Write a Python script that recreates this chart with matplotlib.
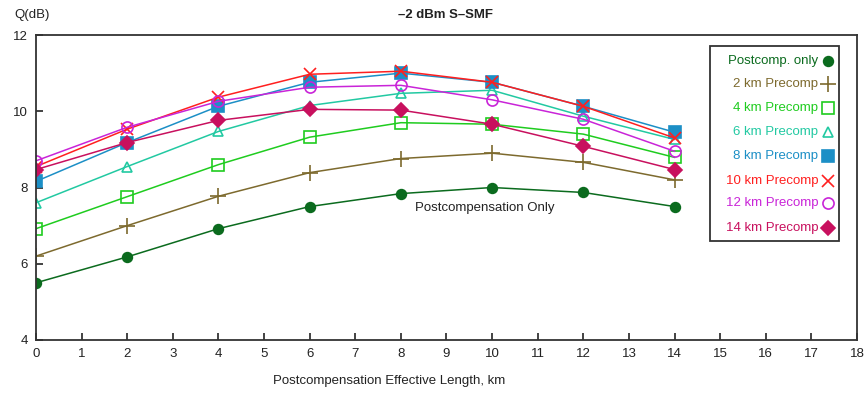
import matplotlib
matplotlib.use("Agg")
import matplotlib.pyplot as plt
from matplotlib.patches import Rectangle

plt.rcParams['font.family'] = ['Liberation Sans', 'DejaVu Sans']

W, H = 866, 393

# Postcompensation effective length (km)
length_km = [0, 2, 4, 6, 8, 10, 12, 14]

# Q factor (dB) per precompensation setting
q_postcomp_only = [5.50, 6.18, 6.92, 7.50, 7.84, 8.00, 7.87, 7.50]
q_pre_2km = [6.20, 7.00, 7.77, 8.39, 8.76, 8.90, 8.66, 8.20]
q_pre_4km = [6.92, 7.76, 8.60, 9.32, 9.70, 9.66, 9.40, 8.79]
q_pre_6km = [7.60, 8.55, 9.47, 10.15, 10.47, 10.55, 9.87, 9.26]
q_pre_8km = [8.16, 9.18, 10.13, 10.76, 11.00, 10.76, 10.13, 9.45]
q_pre_10km = [8.55, 9.53, 10.37, 10.97, 11.05, 10.76, 10.13, 9.30]
q_pre_12km = [8.70, 9.58, 10.26, 10.63, 10.68, 10.30, 9.79, 8.95]
q_pre_14km = [8.47, 9.18, 9.76, 10.05, 10.03, 9.66, 9.08, 8.47]

series_labels = ["Postcomp. only", "2 km Precomp", "4 km Precomp", "6 km Precomp",
                 "8 km Precomp", "10 km Precomp", "12 km Precomp", "14 km Precomp"]
series_values = [q_postcomp_only, q_pre_2km, q_pre_4km, q_pre_6km,
                 q_pre_8km, q_pre_10km, q_pre_12km, q_pre_14km]

x_ticks = list(range(0, 19))
y_ticks = [4, 6, 8, 10, 12]

colors = ["#0b6b1e", "#7d6a2e", "#1fcc1f", "#22c9a2",
          "#1c8fc6", "#ff1f1f", "#c924d8", "#c8105e"]
markers = ["o", "+", "s", "^", "s", "x", "o", "D"]
filled = [True, False, False, False, True, False, False, True]
msizes = [7, 12, 9, 7, 8, 9, 8, 7]

fig = plt.figure(figsize=(W / 100, H / 100), dpi=100)
ax = fig.add_axes([36 / W, 1 - 340 / H, (857 - 36) / W, (340 - 35) / H])

for vals, c, m, f, ms in zip(series_values, colors, markers, filled, msizes):
    ax.plot(length_km, vals, color=c, lw=1.1, marker=m, ms=ms,
            markerfacecolor=c if f else "none", markeredgecolor=c,
            markeredgewidth=1.2)

ax.set_xlim(0, 18)
ax.set_ylim(4, 12)
ax.set_xticks(x_ticks)
ax.set_yticks(y_ticks)
ax.tick_params(direction="in", length=5, width=1.2, labelsize=9.5,
               colors="#222222", pad=6)
for s in ax.spines.values():
    s.set_color("#333333")
    s.set_linewidth(1.3)

ax.text(8.3, 7.47, "Postcompensation Only", fontsize=9.5, color="#222222",
        ha="left", va="center")

# title, axis captions
fig.text(446 / W, 1 - 15 / H, "\u20132 dBm S\u2013SMF", ha="center", va="center",
         fontsize=9.5, fontweight="bold", color="#222222")
fig.text(14 / W, 1 - 15 / H, "Q(dB)", ha="left", va="center",
         fontsize=9.5, color="#222222")
fig.text(389 / W, 1 - 381 / H, "Postcompensation Effective Length, km",
         ha="center", va="center", fontsize=9.5, color="#222222")

# legend box, drawn in figure pixels
def fx(px):
    return px / W

def fy(py):
    return 1 - py / H

fig.patches.append(Rectangle((fx(710), fy(241)), fx(839) - fx(710), fy(46) - fy(241),
                             transform=fig.transFigure, fill=True, facecolor="white",
                             edgecolor="#333333", lw=1.3, zorder=5))
row_y = [61, 84, 108, 132, 156, 181, 203, 228]
for ry, lab, c, m, f, ms in zip(row_y, series_labels, colors, markers, filled, msizes):
    fig.text(fx(818), fy(ry), lab, ha="right", va="center", fontsize=9.5,
             color=c, zorder=6)
    fig.lines.append(plt.Line2D([fx(828)], [fy(ry)], transform=fig.transFigure,
                                marker=m, ms=ms, color=c,
                                markerfacecolor=c if f else "none",
                                markeredgecolor=c, markeredgewidth=1.2,
                                linestyle="none", zorder=6))

fig.savefig("out.png", dpi=100)
